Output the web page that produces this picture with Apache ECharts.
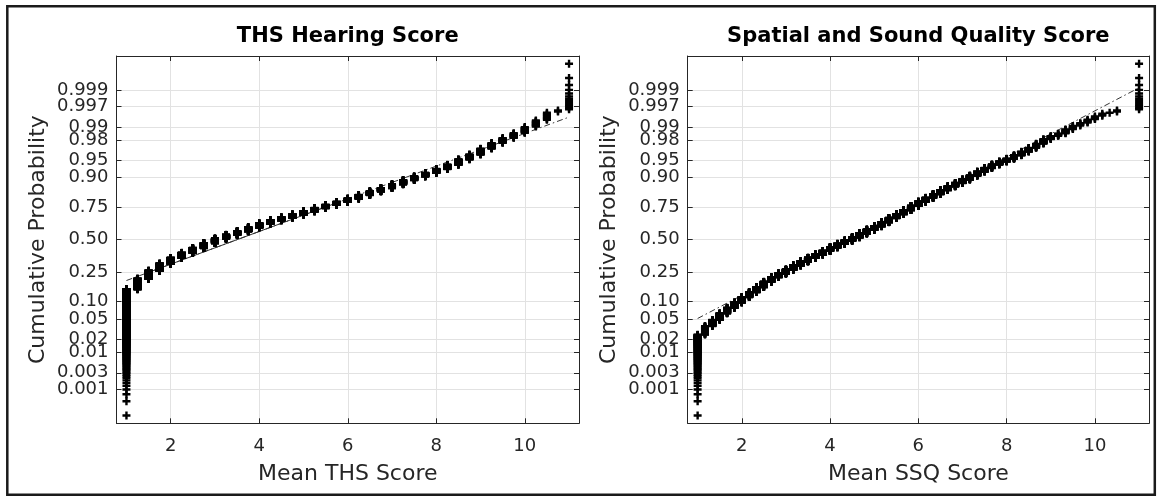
<!DOCTYPE html>
<html><head><meta charset="utf-8">
<script src="https://cdn.jsdelivr.net/npm/echarts@6/dist/echarts.min.js"></script>
<style>html,body{margin:0;padding:0;background:#fff}#c{width:1162px;height:501px}</style>
</head><body><div id="c"></div>
<script>
// ---- data ----
const probTickLabels = ['0.001','0.003','0.01','0.02','0.05','0.10','0.25','0.50','0.75','0.90','0.95','0.98','0.99','0.997','0.999'];
const xTickValues = [2, 4, 6, 8, 10];

const thsTitle = 'THS Hearing Score';
const thsXName = 'Mean THS Score';
const thsScores = [1,1.25,1.5,1.75,2,2.25,2.5,2.75,3,3.25,3.5,3.75,4,4.25,4.5,4.75,5,5.25,5.5,5.75,6,6.25,6.5,6.75,7,7.25,7.5,7.75,8,8.25,8.5,8.75,9,9.25,9.5,9.75,10,10.25,10.5,10.75,11];
const thsCounts = [539,200,178,174,153,138,137,141,130,109,104,109,107,87,74,77,79,79,71,67,68,71,67,56,60,60,47,42,41,40,43,33,33,25,18,14,14,11,9,2,13];

const ssqTitle = 'Spatial and Sound Quality Score';
const ssqXName = 'Mean SSQ Score';
const ssqScores = [1,1.1667,1.3333,1.5,1.6667,1.8333,2,2.1667,2.3333,2.5,2.6667,2.8333,3,3.1667,3.3333,3.5,3.6667,3.8333,4,4.1667,4.3333,4.5,4.6667,4.8333,5,5.1667,5.3333,5.5,5.6667,5.8333,6,6.1667,6.3333,6.5,6.6667,6.8333,7,7.1667,7.3333,7.5,7.6667,7.8333,8,8.1667,8.3333,8.5,8.6667,8.8333,9,9.1667,9.3333,9.5,9.6667,9.8333,10,10.1667,10.3333,10.5,11];
const ssqCounts = [88,43,41,54,55,62,72,76,85,100,97,81,91,102,104,95,92,100,102,100,94,96,111,106,98,111,111,101,98,99,93,79,72,72,62,51,49,49,46,37,32,25,21,23,22,20,18,17,10,7,10,7,5,5,4,3,1,2,13];

// ---- normal probability scale helpers ----
function norminv(p){
  const a=[-3.969683028665376e+01,2.209460984245205e+02,-2.759285104469687e+02,1.383577518672690e+02,-3.066479806614716e+01,2.506628277459239e+00];
  const b=[-5.447609879822406e+01,1.615858368580409e+02,-1.556989798598866e+02,6.680131188771972e+01,-1.328068155288572e+01];
  const c=[-7.784894002430293e-03,-3.223964580411365e-01,-2.400758277161838e+00,-2.549732539343734e+00,4.374664141464968e+00,2.938163982698783e+00];
  const d=[7.784695709041462e-03,3.224671290700398e-01,2.445134137142996e+00,3.754408661907416e+00];
  const pl=0.02425, ph=1-pl; let q,r;
  if(p<pl){q=Math.sqrt(-2*Math.log(p));return (((((c[0]*q+c[1])*q+c[2])*q+c[3])*q+c[4])*q+c[5])/((((d[0]*q+d[1])*q+d[2])*q+d[3])*q+1);}
  if(p>ph){q=Math.sqrt(-2*Math.log(1-p));return -(((((c[0]*q+c[1])*q+c[2])*q+c[3])*q+c[4])*q+c[5])/((((d[0]*q+d[1])*q+d[2])*q+d[3])*q+1);}
  q=p-0.5;r=q*q;return (((((a[0]*r+a[1])*r+a[2])*r+a[3])*r+a[4])*r+a[5])*q/(((((b[0]*r+b[1])*r+b[2])*r+b[3])*r+b[4])*r+1);
}
const zTicks = probTickLabels.map(s => norminv(parseFloat(s)));
// labels split over two overlaid axes so that ECharts never drops touching labels
const zTicksA = zTicks.filter((z,i)=>i%2===0);
const zTicksB = zTicks.filter((z,i)=>i%2===1);
function probLabel(v){
  let best = 0;
  zTicks.forEach((z,i)=>{ if(Math.abs(z-v) < Math.abs(zTicks[best]-v)) best = i; });
  return probTickLabels[best];
}
// normplot plotting positions (i-0.5)/n for every observation
function expand(scores, counts){
  const n = counts.reduce((s,c)=>s+c,0);
  const pts = []; let i = 0;
  scores.forEach((s,k)=>{ for(let j=0;j<counts[k];j++){ pts.push([s, norminv((i+0.5)/n)]); i++; } });
  return pts;
}
function quantile(scores, counts, p){
  const n = counts.reduce((s,c)=>s+c,0);
  let cum = 0;
  for(let k=0;k<scores.length;k++){ cum += counts[k]; if(cum >= p*n) return scores[k]; }
  return scores[scores.length-1];
}
function refLines(scores, counts){
  const q1 = quantile(scores, counts, 0.25), q3 = quantile(scores, counts, 0.75);
  const z3 = norminv(0.75);
  const mu = (q1+q3)/2, sig = (q3-q1)/(2*z3);
  const f = x => (x-mu)/sig;
  const lo = scores[0], hi = scores[scores.length-1];
  return { dash: [[lo,f(lo)],[hi,f(hi)]], solid: [[q1,f(q1)],[q3,f(q3)]] };
}

// ---- chart ----
const FONT = 'DejaVu Sans';
const AX = '#262626';
const YMIN = -3.79, YMAX = 3.79, XMIN = 0.775, XMAX = 11.225;
const plusSym = 'path://M1.75,0H3.25V1.75H5V3.25H3.25V5H1.75V3.25H0V1.75H1.75Z';
const plotRects = [
  {left:116.5, top:56, width:462.5, height:367.3},
  {left:687.7, top:56, width:461.3, height:367.3}
];
const panels = [
  {title:thsTitle, xname:thsXName, scores:thsScores, counts:thsCounts},
  {title:ssqTitle, xname:ssqXName, scores:ssqScores, counts:ssqCounts}
];
const grids = [], xAxes = [], yAxes = [], series = [], titles = [];
const labelStyle = {fontFamily:FONT, fontSize:18, color:AX};
panels.forEach((p,g)=>{
  const gr = plotRects[g];
  grids.push(Object.assign({containLabel:false}, gr));
  titles.push({text:p.title, left:gr.left+gr.width/2, top:26, padding:0, textAlign:'center', textVerticalAlign:'top',
    textStyle:{fontFamily:FONT, fontWeight:'bold', fontSize:21, color:'#000'}});
  xAxes.push({type:'value', gridIndex:g, position:'bottom', min:XMIN, max:XMAX,
    name:p.xname, nameLocation:'middle', nameGap:40,
    nameTextStyle:{fontFamily:FONT, fontSize:22, color:AX},
    axisLine:{show:true, onZero:false, lineStyle:{color:AX, width:1}},
    axisTick:{show:true, inside:true, length:5, customValues:xTickValues, lineStyle:{color:AX}},
    axisLabel:Object.assign({customValues:xTickValues, margin:14}, labelStyle),
    splitLine:{show:true, lineStyle:{color:'#e2e2e2', width:1}}});
  xAxes.push({type:'value', gridIndex:g, position:'top', min:XMIN, max:XMAX,
    axisLine:{show:true, onZero:false, lineStyle:{color:AX, width:1}},
    axisTick:{show:true, inside:true, length:5, customValues:xTickValues, lineStyle:{color:AX}},
    axisLabel:{show:false}, splitLine:{show:false}});
  yAxes.push({type:'value', gridIndex:g, position:'left', min:YMIN, max:YMAX,
    name:'Cumulative Probability', nameLocation:'middle', nameGap:67, nameRotate:90,
    nameTextStyle:{fontFamily:FONT, fontSize:22, color:AX},
    axisLine:{show:true, onZero:false, lineStyle:{color:AX, width:1}},
    axisTick:{show:true, inside:true, length:5, customValues:zTicks, lineStyle:{color:AX}},
    axisLabel:Object.assign({customValues:zTicksA, formatter:probLabel, showMinLabel:true, showMaxLabel:true, margin:8}, labelStyle),
    splitLine:{show:true, lineStyle:{color:'#e2e2e2', width:1}}});
  yAxes.push({type:'value', gridIndex:g, position:'right', min:YMIN, max:YMAX,
    axisLine:{show:true, onZero:false, lineStyle:{color:AX, width:1}},
    axisTick:{show:true, inside:true, length:5, customValues:zTicks, lineStyle:{color:AX}},
    axisLabel:{show:false}, splitLine:{show:false}});
  const xi = g*2, yi = g*2;
  const rl = refLines(p.scores, p.counts);
  series.push({type:'line', xAxisIndex:xi, yAxisIndex:yi, data:rl.dash, symbol:'none', silent:true,
    lineStyle:{color:'#333', width:1, type:[6,3,1.5,3]}, z:1});
  series.push({type:'line', xAxisIndex:xi, yAxisIndex:yi, data:rl.solid, symbol:'none', silent:true,
    lineStyle:{color:'#333', width:1, type:'solid'}, z:1});
  series.push({type:'scatter', xAxisIndex:xi, yAxisIndex:yi, data:expand(p.scores, p.counts),
    symbol:plusSym, symbolSize:8, large:false, progressive:0,
    itemStyle:{color:'#000', opacity:1}, z:2});
});
// overlay grids carrying the second half of the probability labels
panels.forEach((p,g)=>{
  const gi = grids.length;
  grids.push(Object.assign({containLabel:false}, plotRects[g]));
  xAxes.push({type:'value', gridIndex:gi, min:XMIN, max:XMAX, show:false});
  yAxes.push({type:'value', gridIndex:gi, position:'left', min:YMIN, max:YMAX,
    axisLine:{show:false}, axisTick:{show:false}, splitLine:{show:false},
    axisLabel:Object.assign({customValues:zTicksB, formatter:probLabel, showMinLabel:true, showMaxLabel:true, margin:8}, labelStyle)});
});

const chart = echarts.init(document.getElementById('c'), null, {renderer:'canvas'});
chart.setOption({
  animation:false,
  backgroundColor:'#fff',
  title:titles,
  grid:grids,
  xAxis:xAxes, yAxis:yAxes, series:series,
  graphic:[{type:'rect', shape:{x:7.3, y:6.3, width:1147.5, height:488.5},
    style:{fill:'none', stroke:'#1a1a1a', lineWidth:2.5}, silent:true, z:100}]
});
</script></body></html>
